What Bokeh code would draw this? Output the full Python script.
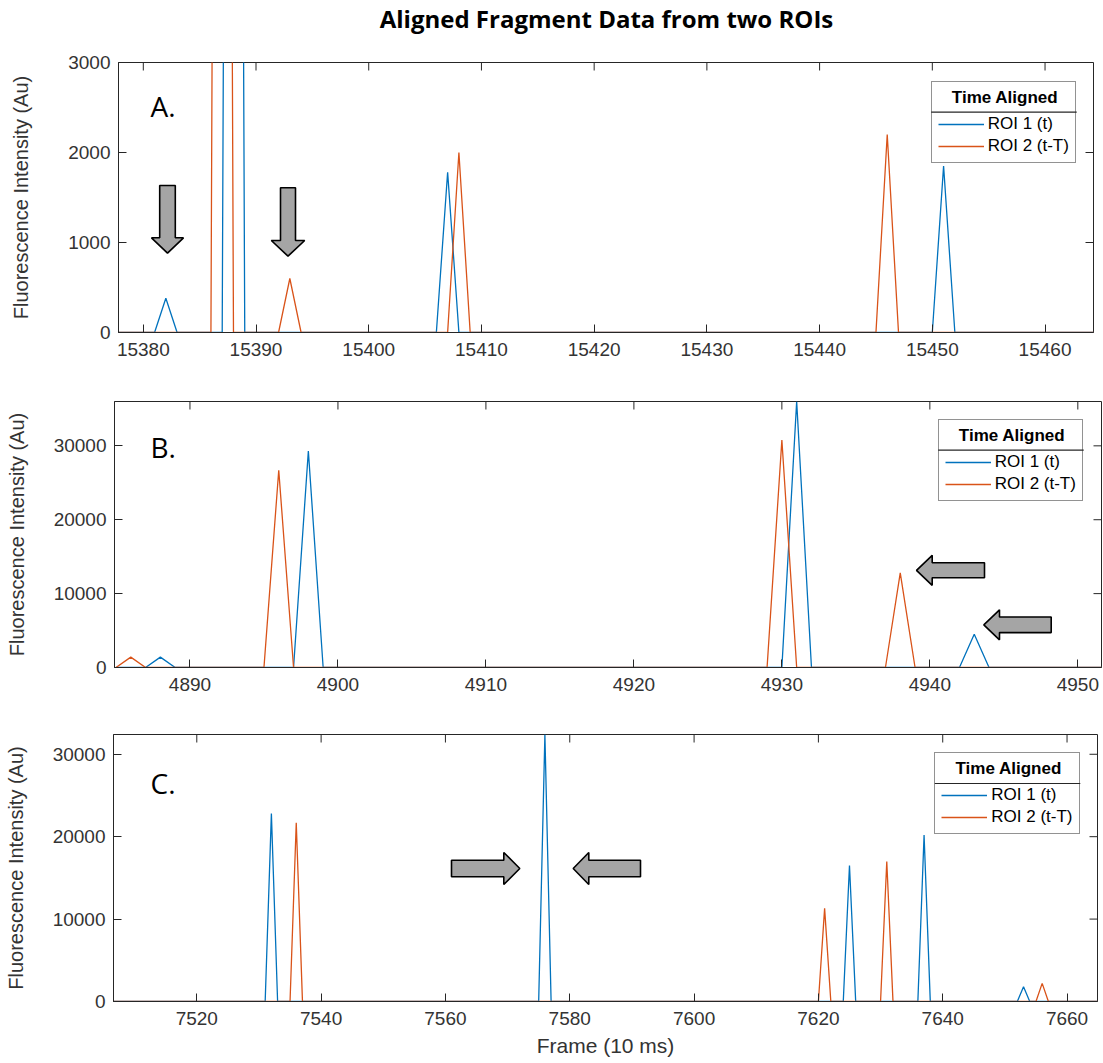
import math
from bokeh.plotting import figure
from bokeh.models import (Legend, LegendItem, FixedTicker, Range1d,
                          Label, BoxAnnotation, BasicTickFormatter)
from bokeh.layouts import column
from bokeh.embed import file_html
from bokeh.resources import INLINE

BLUE = "#0072BD"
ORANGE = "#D95319"
AXC = "#262626"
TXT = "#333333"

# ---------------- data ----------------
TITLE = "Aligned Fragment Data from two ROIs"
Y_LABEL = "Fluorescence Intensity (Au)"
X_LABEL = "Frame (10 ms)"
LEGEND_TITLE = "Time Aligned"
SERIES_NAMES = ["ROI 1 (t)", "ROI 2 (t-T)"]

# Panel A
a_frame_span = [15377, 15465]
a_roi1_frames = [15382, 15388, 15407, 15451]
a_roi1_values = [380, 30000, 1780, 1850]
a_roi2_frames = [15387, 15393, 15408, 15446]
a_roi2_values = [30000, 600, 2000, 2200]
a_xticks = [15380, 15390, 15400, 15410, 15420, 15430, 15440, 15450, 15460]
a_yticks = [0, 1000, 2000, 3000]

# Panel B
b_frame_span = [4885, 4952]
b_roi1_frames = [4888, 4898, 4931, 4943]
b_roi1_values = [1400, 29300, 36000, 4500]
b_roi2_frames = [4886, 4896, 4930, 4938]
b_roi2_values = [1400, 26700, 30800, 12800]
b_xticks = [4890, 4900, 4910, 4920, 4930, 4940, 4950]
b_yticks = [0, 10000, 20000, 30000]

# Panel C
c_frame_span = [7506, 7665]
c_roi1_frames = [7532, 7576, 7625, 7637, 7653]
c_roi1_values = [22800, 32400, 16500, 20200, 1800]
c_roi2_frames = [7536, 7621, 7631, 7656]
c_roi2_values = [21700, 11300, 17000, 2200]
c_xticks = [7520, 7540, 7560, 7580, 7600, 7620, 7640, 7660]
c_yticks = [0, 10000, 20000, 30000]


def build_series(span, frames, values):
    xs = list(range(span[0], span[1] + 1))
    ys = [0] * len(xs)
    for f, v in zip(frames, values):
        ys[f - span[0]] = v
    return xs, ys


# ---------------- layout (page pixels) ----------------
W = 1103
TITLE_H = 36
PANELS = [
    dict(name="A.", top_px=TITLE_H, height=368 - TITLE_H, frame=(118, 1093, 62, 332),
         xr=(15377.8, 15464.3), yr=(0, 3000), span=a_frame_span,
         r1=(a_roi1_frames, a_roi1_values), r2=(a_roi2_frames, a_roi2_values),
         xt=a_xticks, yt=a_yticks, legend=(930.7, 82.7), ylab_standoff=33,
         letter_y=105.0),
    dict(name="B.", top_px=368, height=334, frame=(114, 1101, 401, 667),
         xr=(4884.9, 4951.6), yr=(0, 36000), span=b_frame_span,
         r1=(b_roi1_frames, b_roi1_values), r2=(b_roi2_frames, b_roi2_values),
         xt=b_xticks, yt=b_yticks, legend=(937.7, 420.7), ylab_standoff=23,
         letter_y=446.0),
    dict(name="C.", top_px=702, height=361, frame=(113, 1097, 734, 1001),
         xr=(7506.6, 7664.9), yr=(0, 32400), span=c_frame_span,
         r1=(c_roi1_frames, c_roi1_values), r2=(c_roi2_frames, c_roi2_values),
         xt=c_xticks, yt=c_yticks, legend=(934.3, 754.0), ylab_standoff=23,
         letter_y=782.0),
]
LEG_W, LEG_H, LEG_SEP = 146, 80, 29

ARROWS = {
    "A.": [("down", 167.0, 185.0, 237.3, 252.7, 7.8, 16.0),
           ("down", 287.5, 187.3, 240.0, 255.7, 7.5, 16.7)],
    "B.": [("left", 569.8, 984.0, 931.7, 916.0, 7.5, 15.0),
           ("left", 624.3, 1050.7, 999.0, 983.3, 7.8, 15.0)],
    "C.": [("right", 868.0, 451.0, 503.3, 519.3, 8.3, 16.0),
           ("left", 868.0, 640.0, 588.3, 572.7, 8.3, 16.0)],
}


def arrow_poly(kind, c, tail, base, tip, sw, hw):
    if kind == "down":
        return [(c - sw, tail), (c + sw, tail), (c + sw, base), (c + hw, base),
                (c, tip), (c - hw, base), (c - sw, base)]
    # horizontal arrows: c = centre y
    return [(tail, c - sw), (base, c - sw), (base, c - hw), (tip, c),
            (base, c + hw), (base, c + sw), (tail, c + sw)]


# ---- title strip (its own small canvas, pixel coordinates) ----
tfig = figure(width=W, height=TITLE_H, x_range=Range1d(0, W), y_range=Range1d(0, TITLE_H),
              x_axis_type=None, y_axis_type=None, output_backend="svg",
              toolbar_location=None, frame_align=False, title_location=None,
              min_border_left=0, min_border_right=0, min_border_top=0, min_border_bottom=0)
tfig.outline_line_color = None
tfig.grid.visible = False
tfig.background_fill_color = "white"
tfig.border_fill_color = "white"
tfig.add_layout(Label(x=606, y=TITLE_H - 18, text=TITLE, text_font="Open Sans",
                      text_font_style="bold", text_font_size="24px",
                      text_color="black", text_align="center",
                      text_baseline="alphabetic"))

figs = [tfig]
for i, P in enumerate(PANELS):
    L, R, T, B = P["frame"]
    top0 = P["top_px"]
    H = P["height"]
    x0, x1 = P["xr"]
    y0, y1 = P["yr"]

    def to_data(px, py, L=L, R=R, T=T, B=B, x0=x0, x1=x1, y0=y0, y1=y1):
        return (x0 + (px - L) / (R - L) * (x1 - x0),
                y1 - (py - T) / (B - T) * (y1 - y0))

    p = figure(width=W, height=H, x_range=Range1d(x0, x1), y_range=Range1d(y0, y1),
               output_backend="svg", toolbar_location=None, frame_align=False,
               title_location=None,
               min_border_left=L, min_border_right=W - R,
               min_border_top=T - top0, min_border_bottom=top0 + H - B)
    p.background_fill_color = "white"
    p.border_fill_color = "white"
    p.outline_line_color = AXC
    p.outline_line_width = 1
    p.grid.visible = False

    xs1, ys1 = build_series(P["span"], *P["r1"])
    xs2, ys2 = build_series(P["span"], *P["r2"])
    r1 = p.line(xs1, ys1, line_color=BLUE, line_width=1.3)
    r2 = p.line(xs2, ys2, line_color=ORANGE, line_width=1.3)

    for ax, ticks in ((p.below[0], P["xt"]), (p.left[0], P["yt"])):
        ax.ticker = FixedTicker(ticks=ticks)
        ax.formatter = BasicTickFormatter(use_scientific=False)
        ax.major_tick_in = 8
        ax.major_tick_out = 0
        ax.minor_tick_line_color = None
        ax.axis_line_color = AXC
        ax.major_tick_line_color = AXC
        ax.major_label_text_font = "Liberation Sans"
        ax.major_label_text_font_size = "19px"
        ax.major_label_text_color = TXT
        ax.axis_label_text_font = "Liberation Sans"
        ax.axis_label_text_font_style = "normal"
        ax.axis_label_text_color = TXT
    p.below[0].major_label_standoff = 10
    p.left[0].major_label_standoff = 8
    p.left[0].axis_label = Y_LABEL
    p.left[0].axis_label_text_font_size = "20px"
    p.left[0].axis_label_standoff = P["ylab_standoff"]
    if i == 2:
        p.below[0].axis_label = X_LABEL
        p.below[0].axis_label_text_font_size = "21px"
        p.below[0].axis_label_standoff = 6

    # box ticks on top and right edges (inward, no labels)
    p.ray(x=P["xt"], y=[y1] * len(P["xt"]), length=8, length_units="screen",
          angle=-math.pi / 2, line_color=AXC, line_width=1)
    p.ray(x=[x1] * len(P["yt"]), y=P["yt"], length=8, length_units="screen",
          angle=math.pi, line_color=AXC, line_width=1)

    # panel letter
    lx, ly = to_data(150, P["letter_y"])
    p.add_layout(Label(x=lx, y=ly, text=P["name"], text_font="Open Sans",
                       text_font_size="28px", text_color="black",
                       text_baseline="alphabetic"))

    # arrows
    for spec in ARROWS[P["name"]]:
        pts = [to_data(a, b) for a, b in arrow_poly(*spec)]
        p.patch([q[0] for q in pts], [q[1] for q in pts], fill_color="#a5a5a5",
                line_color="black", line_width=1.6)

    # legend background + title separator (drawn beneath a transparent legend)
    leg_left, leg_top = P["legend"]
    bx0, by0 = to_data(leg_left - 1, leg_top - 2)
    bx1, by1 = to_data(leg_left + LEG_W + 1, leg_top + LEG_H + 2)
    p.add_layout(BoxAnnotation(left=bx0, right=bx1, top=by0, bottom=by1,
                               fill_color="white", fill_alpha=1, line_color=None))
    sx0, sy_top = to_data(leg_left, leg_top + LEG_SEP - 0.6)
    sx1, sy_bot = to_data(leg_left + LEG_W - 0.5, leg_top + LEG_SEP + 0.6)
    p.add_layout(BoxAnnotation(left=sx0, right=sx1, top=sy_top, bottom=sy_bot,
                               fill_color=AXC, fill_alpha=1, line_color=None))

    legend = Legend(items=[LegendItem(label=SERIES_NAMES[0], renderers=[r1]),
                           LegendItem(label=SERIES_NAMES[1], renderers=[r2])],
                    title="\u00a0\u00a0\u00a0" + LEGEND_TITLE,
                    location=(leg_left - L, B - (leg_top + LEG_H)),
                    padding=6, spacing=2, margin=0,
                    label_height=20, glyph_height=20, glyph_width=46,
                    label_standoff=4, title_standoff=6,
                    border_line_color=AXC, border_line_width=1,
                    background_fill_alpha=0,
                    label_text_font="Liberation Sans", label_text_font_size="17px",
                    label_text_color="black",
                    title_text_font="Liberation Sans", title_text_font_size="17px",
                    title_text_font_style="bold", title_text_color="black")
    p.add_layout(legend, "center")
    figs.append(p)

layout = column(*figs, spacing=0)
open("out.html", "w").write(file_html(layout, INLINE))
